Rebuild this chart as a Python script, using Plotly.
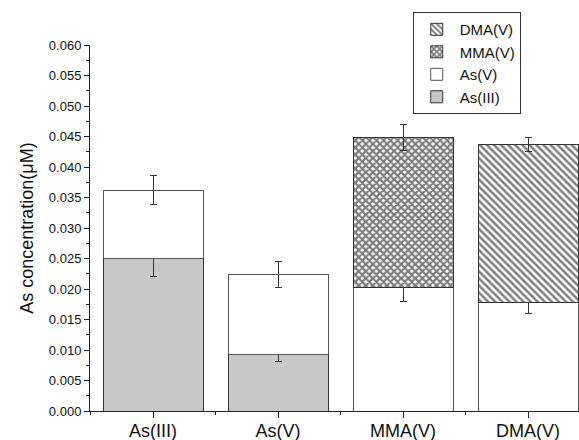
import plotly.graph_objects as go

categories = ["As(III)", "As(V)", "MMA(V)", "DMA(V)"]
x_pos = [0, 1, 2, 3]

as3_vals = [0.0250, 0.0093, None, None]
as3_err = [0.0030, 0.0012, 0, 0]

as5_vals = [0.0112, 0.0131, 0.0202, 0.0178]
as5_err = [0.0024, 0.0021, 0.0023, 0.0018]

mma_vals = [None, None, 0.0246, None]
mma_err = [0, 0, 0.0021, 0]

dma_vals = [None, None, None, 0.0259]
dma_err = [0, 0, 0, 0.0012]

y_ticks = [0.000, 0.005, 0.010, 0.015, 0.020, 0.025, 0.030,
           0.035, 0.040, 0.045, 0.050, 0.055, 0.060]

FONT = "Liberation Sans, Arial, sans-serif"
LINE = "#333333"
ERR = dict(type="data", visible=True, color=LINE, thickness=1, width=3.5)

fig = go.Figure()
fig.add_trace(go.Bar(
    x=x_pos, y=as3_vals, name="As(III)", width=0.8,
    marker=dict(color="#c8c8c8", line=dict(color=LINE, width=1)),
    error_y=dict(array=as3_err, **ERR),
))
fig.add_trace(go.Bar(
    x=x_pos, y=as5_vals, name="As(V)", width=0.8,
    marker=dict(color="white", line=dict(color="#555555", width=1)),
    error_y=dict(array=as5_err, **ERR),
))
fig.add_trace(go.Bar(
    x=x_pos, y=mma_vals, name="MMA(V)", width=0.8,
    marker=dict(color="white", line=dict(color=LINE, width=1),
                pattern=dict(shape="x", fgcolor="#000000", bgcolor="white",
                             size=5, solidity=0.7)),
    error_y=dict(array=mma_err, **ERR),
))
fig.add_trace(go.Bar(
    x=x_pos, y=dma_vals, name="DMA(V)", width=0.8,
    marker=dict(color="white", line=dict(color=LINE, width=1),
                pattern=dict(shape="\\", fgcolor="#000000", bgcolor="white",
                             size=5, solidity=0.5)),
    error_y=dict(array=dma_err, **ERR),
))

fig.update_layout(
    width=579, height=440,
    barmode="stack",
    paper_bgcolor="white", plot_bgcolor="white",
    margin=dict(l=90, r=0, t=45, b=29, autoexpand=False),
    font=dict(family=FONT, color="#111111"),
    showlegend=True,
    legend=dict(
        traceorder="reversed",
        x=0.66, y=1.09, xanchor="left", yanchor="top",
        bordercolor="#333333", borderwidth=1, bgcolor="white",
        font=dict(size=15, family=FONT),
        tracegroupgap=0, itemwidth=36,
    ),
    xaxis=dict(
        range=[-0.504, 3.408],
        tickmode="array", tickvals=x_pos, ticktext=categories,
        tickfont=dict(size=18, family=FONT),
        showline=True, linecolor="#222222", linewidth=1,
        ticks="outside", ticklen=6, tickcolor="#222222",
        ticklabelstandoff=-3,
        minor=dict(ticks="outside", ticklen=3, tick0=0.5, dtick=1,
                   tickcolor="#222222"),
        showgrid=False, zeroline=False, automargin=False,
    ),
    yaxis=dict(
        range=[0, 0.06],
        tickmode="array", tickvals=y_ticks,
        ticktext=[f"{v:.3f}" for v in y_ticks],
        tickfont=dict(size=13, family=FONT),
        showline=True, linecolor="#222222", linewidth=1,
        ticks="outside", ticklen=5, tickcolor="#222222",
        minor=dict(ticks="outside", ticklen=3, tick0=0.0025, dtick=0.005,
                   tickcolor="#222222"),
        showgrid=False, zeroline=False, automargin=False,
        title=dict(text="As concentration(μM)", font=dict(size=18, family=FONT),
                   standoff=10),
    ),
)

fig.write_html(
    "out.html",
    config={"displayModeBar": False},
    post_script="document.body.style.margin='0';document.body.style.overflow='hidden';",
)
